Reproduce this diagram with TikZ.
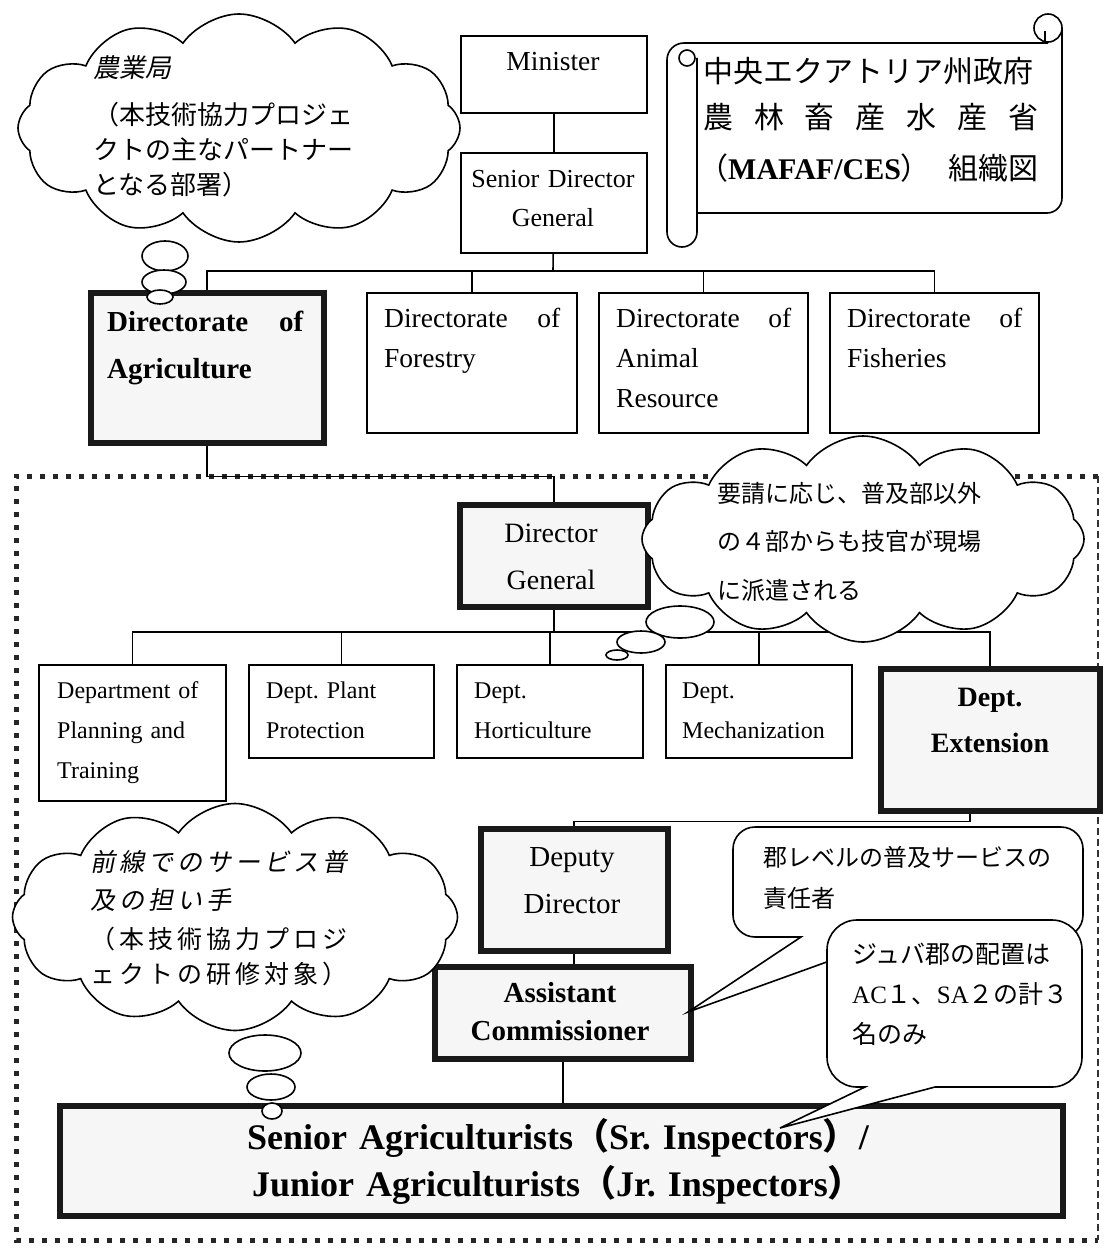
\documentclass[tikz,border=0pt]{standalone}
\usepackage{fontspec}
\setmainfont{Liberation Serif}
\newfontfamily\jp{Noto Sans CJK JP}
\newfontfamily\jpit[FakeSlant=0.2]{Noto Sans CJK JP}
\usetikzlibrary{shapes.symbols}
\newcommand\fs[2]{\fontsize{#1}{#2}\selectfont}
\frenchspacing
\tikzset{
  conn/.style={line width=1.6pt},
  bx/.style={draw, line width=1.6pt, fill=white, inner sep=0pt, anchor=north west},
  hbx/.style={draw=black!90, line width=5.5pt, fill=gray!7, inner sep=0pt, anchor=north west},
  txt/.style={inner sep=0pt, anchor=base west, align=left},
  ctxt/.style={inner sep=0pt, anchor=base, align=center},
  cl/.style={cloud, cloud puffs=12, cloud puff arc=110, cloud ignores aspect, draw, line width=1.6pt, fill=white, inner sep=0pt},
  bub/.style={draw, line width=1.6pt, fill=white},
  call/.style={draw, line width=1.6pt, fill=white},
  scr/.style={draw, line width=1.6pt},
  heavydot/.style={draw=black!85, line width=5pt, dash pattern=on 5pt off 8pt},
  lightdash/.style={draw=black!80, line width=1.6pt, dash pattern=on 7pt off 4pt}
}
\begin{document}
\frenchspacing
\begin{tikzpicture}[x=1pt, y=-1pt]
\useasboundingbox (0,0) rectangle (1105,1252);
\fill[white] (0,0) rectangle (1105,1252);

% dotted frame
\draw[heavydot] (1098,476) -- (16,476) -- (16,1240) -- (1098,1240);
\draw[lightdash] (1098,476) -- (1098,1240);

% boxes
\node[bx, minimum width=186pt, minimum height=77pt] (minister) at (460,35) {};
\node[bx, minimum width=186pt, minimum height=100pt] (sdg) at (460,152) {};
\node[hbx, minimum width=233pt, minimum height=150pt] (agri) at (88,290) {};
\node[bx, minimum width=210pt, minimum height=140pt] (forestry) at (366,292) {};
\node[bx, minimum width=209pt, minimum height=140pt] (animal) at (598,292) {};
\node[bx, minimum width=209pt, minimum height=140pt] (fisheries) at (829,292) {};
\node[hbx, minimum width=188pt, minimum height=102pt] (dg) at (457,502) {};
\node[bx, minimum width=187pt, minimum height=136pt] (planning) at (38,664) {};
\node[bx, minimum width=185pt, minimum height=93pt] (plant) at (248,664) {};
\node[bx, minimum width=186pt, minimum height=93pt] (hort) at (456,664) {};
\node[bx, minimum width=186pt, minimum height=93pt] (mech) at (665,664) {};
\node[hbx, minimum width=219pt, minimum height=142pt] (ext) at (878,666) {};
\node[hbx, minimum width=187pt, minimum height=122pt] (deputy) at (478,826) {};
\node[hbx, minimum width=256pt, minimum height=92pt] (ac) at (432,964) {};
\node[hbx, minimum width=1003pt, minimum height=110pt] (senior) at (57,1103) {};

% connectors
\coordinate (bus1) at (553,271);
\coordinate (bus2) at (551,632);
\draw[conn] (minister) -- (sdg);
\draw[conn] (sdg) -- (bus1);
\draw[conn] (agri.north) |- (bus1);
\draw[conn] (bus1) -| (fisheries.north);
\draw[conn] (forestry.north) -- (forestry.north |- bus1);
\draw[conn] (animal.north) -- (animal.north |- bus1);
\draw[conn] (agri.south) -- ++(0,31) -| (dg.north);
\draw[conn] (dg.south) -- (dg.south |- bus2);
\draw[conn] (planning.north) |- (bus2) -| (ext.north);
\draw[conn] (plant.north) -- (plant.north |- bus2);
\draw[conn] (hort.north) -- (hort.north |- bus2);
\draw[conn] (mech.north) -- (mech.north |- bus2);
\draw[conn] ([xshift=-20pt]ext.south) -- ++(0,8) -| (deputy.north);
\draw[conn] (deputy.south) -- (deputy.south |- ac.north);
\draw[conn] (ac.south) -- (ac.south |- senior.north);

% scroll
\draw[scr] (667,60) arc[start angle=180, end angle=270, radius=17] -- (1048,43);
\draw[scr] (667,60) -- (667,232) arc[start angle=180, end angle=0, radius=15] -- (697,58);
\draw[scr] (687,58) circle[radius=8];
\draw[scr] (1048,28) circle[radius=14];
\draw[scr] (1062,28) -- (1062,198) arc[start angle=0, end angle=90, radius=15] -- (697,213);
\draw[scr] (1045,43) -- (1045,31);

% clouds
\node[cl, minimum width=442pt, minimum height=228pt] (cloudA) at (239,128) {};
\draw[bub] (165,256) ellipse [x radius=23, y radius=15];
\draw[bub] (164,282) ellipse [x radius=22, y radius=12];
\draw[bub] (160,297) ellipse [x radius=13, y radius=7];

\node[cl, minimum width=442pt, minimum height=206pt] (cloudB) at (863,539) {};
\draw[bub] (680,622) ellipse [x radius=34, y radius=16];
\draw[bub] (641,642) ellipse [x radius=24, y radius=11];
\draw[bub] (617,655) ellipse [x radius=11, y radius=5];

\node[cl, minimum width=445pt, minimum height=227pt] (cloudC) at (235,917) {};
\draw[bub] (265,1053) ellipse [x radius=36, y radius=18];
\draw[bub] (271,1087) ellipse [x radius=24, y radius=13];
\draw[bub] (272,1111) ellipse [x radius=10, y radius=8];

% callouts
\draw[call] (801,937) -- (688,1012) -- (896,937) -- (1061,937)
  arc[start angle=90, end angle=0, radius=22] -- (1083,849)
  arc[start angle=0, end angle=-90, radius=22] -- (755,827)
  arc[start angle=-90, end angle=-180, radius=22] -- (733,915)
  arc[start angle=180, end angle=90, radius=22] -- cycle;
\draw[call] (865,1087) -- (780,1128) -- (935,1087) -- (1052,1087)
  arc[start angle=90, end angle=0, radius=30] -- (1082,950)
  arc[start angle=0, end angle=-90, radius=30] -- (857,920)
  arc[start angle=-90, end angle=-180, radius=30] -- (827,1057)
  arc[start angle=180, end angle=90, radius=30] -- cycle;

% texts
\node[ctxt, font=\fs{27.5}{30}] (tmin) at (553,71) {Minister};
\node[ctxt, text width=186pt, font=\fs{26}{39}] (tsdg) at (553,188) {Senior Director\\General};
\node[txt, text width=196pt, font=\bfseries\fs{29}{47}] (tagri) at (107,331) {Directorate\hfill of\\Agriculture};
\node[txt, text width=176pt, font=\fs{27.5}{40}] (tfor) at (384,327) {Directorate\hfill of\\Forestry};
\node[txt, text width=175pt, font=\fs{27.5}{40}] (tani) at (616,327) {Directorate\hfill of\\Animal\\Resource};
\node[txt, text width=175pt, font=\fs{27.5}{40}] (tfis) at (847,327) {Directorate\hfill of\\Fisheries};
\node[ctxt, text width=188pt, font=\fs{28}{47}] (tdg) at (551,542) {Director\\General};
\node[txt, text width=165pt, font=\fs{24}{40}] (tpla) at (57,698) {Department of\\Planning and\\Training};
\node[txt, text width=160pt, font=\fs{24}{40}] (tpp) at (266,698) {Dept. Plant\\Protection};
\node[txt, text width=160pt, font=\fs{24}{40}] (thort) at (474,698) {Dept.\\Horticulture};
\node[txt, text width=160pt, font=\fs{24}{40}] (tmech) at (682,698) {Dept.\\Mechanization};
\node[ctxt, text width=200pt, font=\bfseries\fs{28}{46}] (text) at (990,706) {Dept.\\Extension};
\node[ctxt, text width=180pt, font=\fs{29}{47}] (tdep) at (572,866) {Deputy\\Director};
\node[ctxt, text width=250pt, font=\bfseries\fs{29}{38}] (tac) at (560,1002) {Assistant\\Commissioner};
\node[ctxt, text width=990pt, font=\bfseries\fs{36}{47}] (tsen) at (558,1149) {Senior Agriculturists{\jp （}Sr. Inspectors{\jp ）}/\\Junior Agriculturists{\jp （}Jr. Inspectors{\jp ）}};

\node[txt, font=\jpit\fs{26}{30}] (ca1) at (93,78) {農業局};
\node[txt, text width=290pt, font=\jp\fs{26}{35}] (ca2) at (93,125) {（本技術協力プロジェ\\クトの主なパートナー\\となる部署）};
\node[txt, text width=290pt, font=\jp\fs{24}{48.5}] (cb) at (717,502) {要請に応じ、普及部以外\\の４部からも技官が現場\\に派遣される};
\node[txt, text width=300pt, font=\jpit\fs{25}{38}\addfontfeature{LetterSpace=16}] (cc1) at (90,871) {前線でのサービス普\\及の担い手};
\node[txt, text width=300pt, font=\jp\fs{25}{35}\addfontfeature{LetterSpace=16}] (cc2) at (90,948) {（本技術協力プロジ\\ェクトの研修対象）};
\node[txt, text width=320pt, font=\jp\fs{24}{41}] (k1) at (763,866) {郡レベルの普及サービスの\\責任者};
\node[txt, text width=230pt, font=\jp\fs{25}{40}] (k2) at (852,963) {ジュバ郡の配置は\\{\rmfamily AC}１、{\rmfamily SA}２の計３\\名のみ};
\node[txt, font=\jp\fs{30}{30}] (s1) at (703,83) {中央エクアトリア州政府};
\node[txt, font=\jp\fs{30}{30}] (s2) at (703,129) {\makebox[335pt][s]{農\hfill 林\hfill 畜\hfill 産\hfill 水\hfill 産\hfill 省}};
\node[txt, font=\jp\fs{30}{30}] (s3) at (698,180) {\makebox[340pt][s]{（{\rmfamily\bfseries MAFAF/CES}）\hfill 組織図}};
\end{tikzpicture}
\end{document}
